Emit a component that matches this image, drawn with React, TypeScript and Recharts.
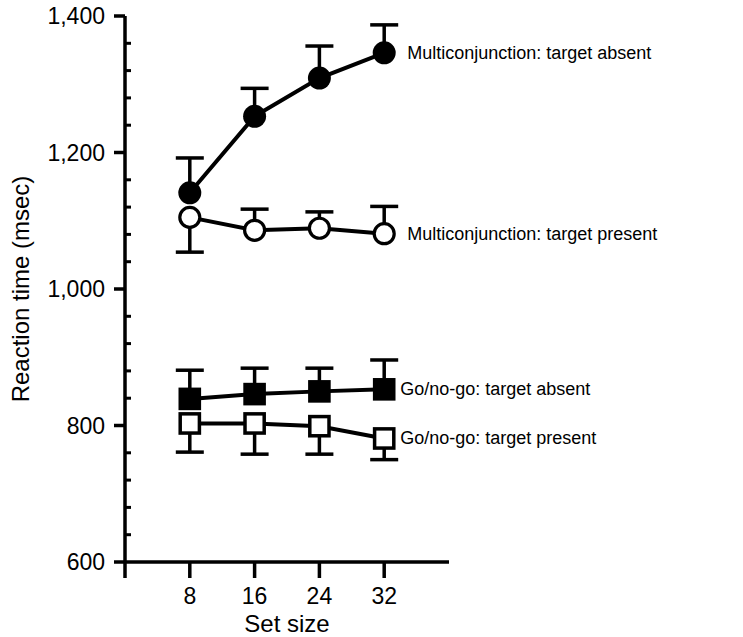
import React from 'react';
import { LineChart, Line, XAxis, YAxis, ErrorBar, LabelList, Label } from 'recharts';

// Set sizes on the x axis
const setSizes = [8, 16, 24, 32];

// Mean reaction times (msec) and one-sided error bars [below, above]
const mcAbsent = [1141, 1253, 1309, 1346];
const mcAbsentLow = [0, 0, 0, 0];
const mcAbsentHigh = [51, 41, 47, 41];

const mcPresent = [1105, 1086, 1089, 1081];
const mcPresentLow = [51, 0, 0, 0];
const mcPresentHigh = [0, 31, 24, 40];

const gngAbsent = [839, 846, 850, 853];
const gngAbsentLow = [0, 0, 0, 0];
const gngAbsentHigh = [42, 38, 34, 43];

const gngPresent = [803, 803, 799, 781];
const gngPresentLow = [42, 45, 41, 31];
const gngPresentHigh = [0, 0, 0, 0];

const xTicks = [0, 8, 16, 24, 32];
const yTicks = [600, 800, 1000, 1200, 1400];
const yMinorTicks = [640, 680, 720, 760, 840, 880, 920, 960, 1040, 1080, 1120, 1160, 1240, 1280, 1320, 1360];

const series = [
  { key: 'mcA', label: 'Multiconjunction: target absent', values: mcAbsent, low: mcAbsentLow, high: mcAbsentHigh, shape: 'circle', filled: true, dx: 23 },
  { key: 'mcP', label: 'Multiconjunction: target present', values: mcPresent, low: mcPresentLow, high: mcPresentHigh, shape: 'circle', filled: false, dx: 23 },
  { key: 'gA', label: 'Go/no-go: target absent', values: gngAbsent, low: gngAbsentLow, high: gngAbsentHigh, shape: 'square', filled: true, dx: 16 },
  { key: 'gP', label: 'Go/no-go: target present', values: gngPresent, low: gngPresentLow, high: gngPresentHigh, shape: 'square', filled: false, dx: 16 },
];

const data = setSizes.map((size, i) => {
  const row: any = { size };
  series.forEach((s) => {
    row[s.key] = s.values[i];
    row[s.key + 'Err'] = [s.low[i], s.high[i]];
    // cap sits at the end of the drawn error bar
    row[s.key + 'Cap'] = s.high[i] > 0 ? s.values[i] + s.high[i] : s.values[i] - s.low[i];
  });
  return row;
});

const FONT = '"Liberation Sans", Arial, Helvetica, sans-serif';

const makeDot = (shape: string, filled: boolean) => (props: any) => {
  const { cx, cy, index } = props;
  if (cx == null || cy == null) return <g key={index} />;
  if (shape === 'circle') {
    return filled
      ? <circle key={index} cx={cx} cy={cy} r={11.5} fill="#000" />
      : <circle key={index} cx={cx} cy={cy} r={10} fill="#fff" stroke="#000" strokeWidth={3.2} />;
  }
  return filled
    ? <rect key={index} x={cx - 11.3} y={cy - 11.3} width={22.6} height={22.6} fill="#000" />
    : <rect key={index} x={cx - 9.6} y={cy - 9.6} width={19.2} height={19.2} fill="#fff" stroke="#000" strokeWidth={3.5} />;
};

const capDot = (props: any) => {
  const { cx, cy, index } = props;
  if (cx == null || cy == null) return <g key={index} />;
  return <line key={index} x1={cx - 14} x2={cx + 14} y1={cy} y2={cy} stroke="#000" strokeWidth={3.5} />;
};

export default function App() {
  const last = setSizes.length - 1;
  return (
    <div style={{ position: 'absolute', left: 0, top: 0, fontFamily: FONT }}>
      <LineChart width={743} height={637} data={data} margin={{ top: 16, right: 294, left: 0, bottom: 0 }}>
        <XAxis
          dataKey="size"
          type="number"
          domain={[0, 40]}
          ticks={xTicks}
          tickFormatter={(v: number) => (v === 0 ? '' : String(v))}
          axisLine={{ stroke: '#000', strokeWidth: 3.5 }}
          tickLine={{ stroke: '#000', strokeWidth: 3.5 }}
          tickSize={16}
          tickMargin={10}
          height={75}
          tick={{ fill: '#000', fontSize: 23, fontFamily: FONT }}
        >
          <Label value="Set size" position="insideBottom" offset={5} fill="#000" fontSize={24} fontFamily={FONT} />
        </XAxis>
        <YAxis
          type="number"
          domain={[600, 1400]}
          ticks={yTicks}
          interval={0}
          width={125}
          tickFormatter={(v: number) => v.toLocaleString('en-US')}
          axisLine={{ stroke: '#000', strokeWidth: 3.5 }}
          tickLine={{ stroke: '#000', strokeWidth: 3.5 }}
          tickSize={11}
          tickMargin={9}
          tick={{ fill: '#000', fontSize: 23, fontFamily: FONT }}
        >
          <Label
            value="Reaction time (msec)"
            angle={-90}
            position="insideLeft"
            offset={20}
            textAnchor="middle"
            fill="#000"
            fontSize={24}
            fontFamily={FONT}
          />
        </YAxis>
        <YAxis
          yAxisId="minor"
          type="number"
          domain={[600, 1400]}
          allowDataOverflow
          ticks={yMinorTicks}
          interval={0}
          mirror
          axisLine={false}
          tickLine={{ stroke: '#000', strokeWidth: 3 }}
          tickSize={6}
          tick={() => <g />}
        />
        {/* hidden series so the minor-tick axis has something bound to it */}
        <Line yAxisId="minor" dataKey="mcA" stroke="none" dot={false} activeDot={false} legendType="none" isAnimationActive={false} />
        {series.map((s) => (
          <Line
            key={s.key + 'Cap'}
            dataKey={s.key + 'Cap'}
            stroke="none"
            dot={capDot}
            activeDot={false}
            legendType="none"
            isAnimationActive={false}
          />
        ))}
        {series.map((s) => (
          <Line
            key={s.key}
            dataKey={s.key}
            type="linear"
            stroke="#000"
            strokeWidth={4}
            dot={makeDot(s.shape, s.filled)}
            activeDot={false}
            isAnimationActive={false}
          >
            <ErrorBar dataKey={s.key + 'Err'} width={0} stroke="#000" strokeWidth={3.5} direction="y" isAnimationActive={false} />
            <LabelList
              dataKey={s.key}
              content={(p: any) =>
                p.index === last ? (
                  <text x={p.x + s.dx} y={p.y} dominantBaseline="central" fill="#000" fontSize={18} fontFamily={FONT}>
                    {s.label}
                  </text>
                ) : null
              }
            />
          </Line>
        ))}
      </LineChart>
    </div>
  );
}
